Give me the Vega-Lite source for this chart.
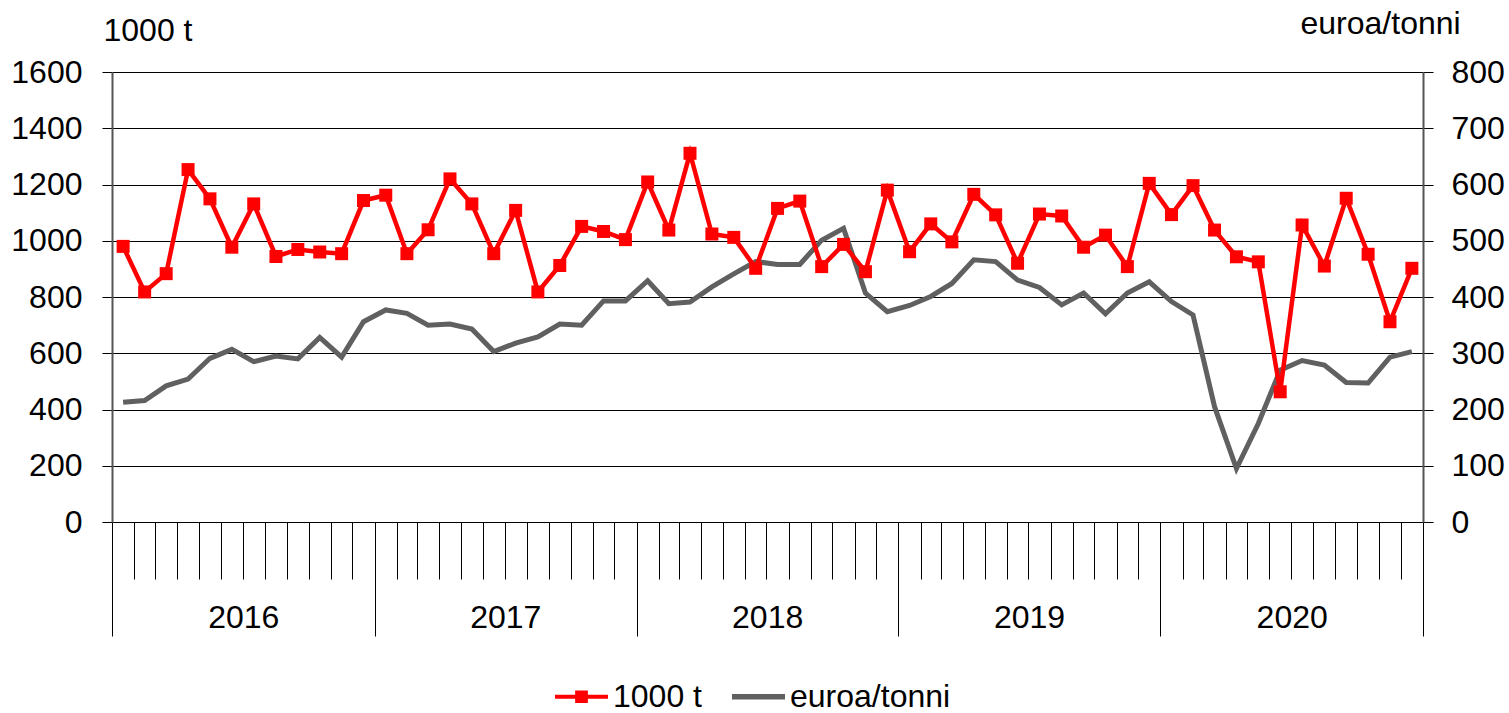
{
  "$schema": "https://vega.github.io/schema/vega-lite/v6.json",
  "width": 1311,
  "height": 450,
  "autosize": {"type": "none"},
  "padding": {"left": 112, "top": 72, "right": 86, "bottom": 191},
  "background": "white",
  "config": {
    "font": "Liberation Sans",
    "view": {"stroke": null},
    "axis": {"labelFont": "Liberation Sans", "titleFont": "Liberation Sans", "labelColor": "#000", "titleColor": "#000", "labelFontSize": 32, "titleFontSize": 32, "titleFontWeight": "normal", "tickColor": "#000", "tickWidth": 1, "domainColor": "#555", "domainWidth": 2},
    "legend": {"labelFont": "Liberation Sans", "labelFontSize": 32, "labelColor": "#000", "labelLimit": 0}
  },
  "data": {"values": [
    {"month": "2016-01", "t": 980, "price": 213},
    {"month": "2016-02", "t": 818, "price": 216},
    {"month": "2016-03", "t": 883, "price": 242},
    {"month": "2016-04", "t": 1253, "price": 254},
    {"month": "2016-05", "t": 1149, "price": 291},
    {"month": "2016-06", "t": 977, "price": 307},
    {"month": "2016-07", "t": 1131, "price": 285},
    {"month": "2016-08", "t": 944, "price": 295},
    {"month": "2016-09", "t": 969, "price": 290},
    {"month": "2016-10", "t": 960, "price": 328},
    {"month": "2016-11", "t": 954, "price": 293},
    {"month": "2016-12", "t": 1143, "price": 356},
    {"month": "2017-01", "t": 1162, "price": 377},
    {"month": "2017-02", "t": 954, "price": 371},
    {"month": "2017-03", "t": 1039, "price": 350},
    {"month": "2017-04", "t": 1220, "price": 352},
    {"month": "2017-05", "t": 1131, "price": 343},
    {"month": "2017-06", "t": 954, "price": 303},
    {"month": "2017-07", "t": 1108, "price": 318},
    {"month": "2017-08", "t": 818, "price": 329},
    {"month": "2017-09", "t": 912, "price": 352},
    {"month": "2017-10", "t": 1051, "price": 350},
    {"month": "2017-11", "t": 1033, "price": 393},
    {"month": "2017-12", "t": 1004, "price": 393},
    {"month": "2018-01", "t": 1209, "price": 429},
    {"month": "2018-02", "t": 1038, "price": 388},
    {"month": "2018-03", "t": 1311, "price": 391},
    {"month": "2018-04", "t": 1024, "price": 418},
    {"month": "2018-05", "t": 1012, "price": 441},
    {"month": "2018-06", "t": 902, "price": 463},
    {"month": "2018-07", "t": 1115, "price": 458},
    {"month": "2018-08", "t": 1141, "price": 458},
    {"month": "2018-09", "t": 908, "price": 501},
    {"month": "2018-10", "t": 987, "price": 522},
    {"month": "2018-11", "t": 890, "price": 407},
    {"month": "2018-12", "t": 1180, "price": 374},
    {"month": "2019-01", "t": 961, "price": 385},
    {"month": "2019-02", "t": 1060, "price": 401},
    {"month": "2019-03", "t": 996, "price": 424},
    {"month": "2019-04", "t": 1165, "price": 466},
    {"month": "2019-05", "t": 1092, "price": 463},
    {"month": "2019-06", "t": 920, "price": 430},
    {"month": "2019-07", "t": 1095, "price": 417},
    {"month": "2019-08", "t": 1088, "price": 386},
    {"month": "2019-09", "t": 977, "price": 407},
    {"month": "2019-10", "t": 1020, "price": 370},
    {"month": "2019-11", "t": 908, "price": 407},
    {"month": "2019-12", "t": 1204, "price": 427},
    {"month": "2020-01", "t": 1093, "price": 392},
    {"month": "2020-02", "t": 1196, "price": 368},
    {"month": "2020-03", "t": 1038, "price": 205},
    {"month": "2020-04", "t": 943, "price": 95},
    {"month": "2020-05", "t": 925, "price": 175},
    {"month": "2020-06", "t": 463, "price": 270},
    {"month": "2020-07", "t": 1056, "price": 287},
    {"month": "2020-08", "t": 910, "price": 279},
    {"month": "2020-09", "t": 1151, "price": 248},
    {"month": "2020-10", "t": 952, "price": 247},
    {"month": "2020-11", "t": 712, "price": 293},
    {"month": "2020-12", "t": 902, "price": 303}
  ]},
  "layer": [
    {
      "mark": {"type": "line", "strokeWidth": 5},
      "encoding": {
        "x": {
          "field": "month", "type": "temporal", "timeUnit": "utcyearmonth", "bandPosition": 0.5,
          "scale": {"type": "utc", "domain": [{"year": 2016, "month": 1, "date": 1, "utc": true}, {"year": 2021, "month": 1, "date": 1, "utc": true}]},
          "axis": {"orient": "bottom", "title": null, "values": [{"year": 2016, "month": 7, "date": 2, "utc": true}, {"year": 2017, "month": 7, "date": 2, "utc": true}, {"year": 2018, "month": 7, "date": 2, "utc": true}, {"year": 2019, "month": 7, "date": 2, "utc": true}, {"year": 2020, "month": 7, "date": 2, "utc": true}], "format": "%Y", "ticks": false, "domain": false, "grid": false, "labelPadding": 80, "labelBaseline": "top", "labelAngle": 0}
        },
        "y": {
          "field": "price", "type": "quantitative",
          "scale": {"domain": [0, 800], "nice": false},
          "axis": {"orient": "right", "values": [0, 100, 200, 300, 400, 500, 600, 700, 800], "format": "d", "grid": false, "tickSize": 10, "labelPadding": 18, "title": "euroa/tonni", "titleAngle": 0, "titleAlign": "left", "titleBaseline": "alphabetic", "titleX": -123, "titleY": -39}
        },
        "color": {
          "datum": "euroa/tonni", "type": "nominal",
          "scale": {"domain": ["1000 t", "euroa/tonni"], "range": ["#ff0000", "#606060"]},
          "legend": {
            "title": null, "orient": "none", "direction": "horizontal", "legendX": 443, "legendY": 598,
            "symbolSize": 2809, "labelOffset": 5, "columnPadding": 30, "labelLimit": 0,
            "encode": {"symbols": {"update": {
              "shape": {"signal": "datum.value === '1000 t' ? 'M-1,-0.08H1V0.08H-1Z M-0.24,-0.24H0.24V0.24H-0.24Z' : 'M-1,-0.1H1V0.1H-1Z'"},
              "fill": {"signal": "datum.value === '1000 t' ? '#ff0000' : '#606060'"},
              "stroke": {"value": "transparent"},
              "strokeWidth": {"value": 0},
              "opacity": {"value": 1}
            }}}
          }
        }
      }
    },
    {
      "layer": [
        {
          "mark": {"type": "line", "strokeWidth": 4.5, "color": "#ff0000"},
          "encoding": {
            "x": {
              "field": "month", "type": "temporal", "timeUnit": "utcyearmonth", "bandPosition": 0.5,
              "scale": {"type": "utc", "domain": [{"year": 2016, "month": 1, "date": 1, "utc": true}, {"year": 2021, "month": 1, "date": 1, "utc": true}]},
              "axis": {"orient": "bottom", "title": null, "tickCount": {"interval": "month", "step": 1}, "labels": false, "tickSize": 57, "domain": false, "grid": false}
            },
            "y": {
              "field": "t", "type": "quantitative",
              "scale": {"domain": [0, 1600], "nice": false},
              "axis": {"orient": "left", "values": [0, 200, 400, 600, 800, 1000, 1200, 1400, 1600], "format": "d", "grid": true, "gridColor": "#000", "gridWidth": 1, "gridOpacity": 1, "tickSize": 10, "labelPadding": 20, "title": "1000 t", "titleAngle": 0, "titleAlign": "left", "titleBaseline": "alphabetic", "titleX": -9, "titleY": -32}
            }
          }
        },
        {
          "mark": {"type": "point", "shape": "square", "filled": true, "size": 169, "color": "#ff0000", "opacity": 1},
          "encoding": {
            "x": {
              "field": "month", "type": "temporal", "timeUnit": "utcyearmonth", "bandPosition": 0.5,
              "scale": {"type": "utc", "domain": [{"year": 2016, "month": 1, "date": 1, "utc": true}, {"year": 2021, "month": 1, "date": 1, "utc": true}]},
              "axis": {"orient": "bottom", "title": null, "tickCount": {"interval": "year", "step": 1}, "labels": false, "tickSize": 114, "domain": false, "grid": false}
            },
            "y": {
              "field": "t", "type": "quantitative",
              "scale": {"domain": [0, 1600], "nice": false},
              "axis": {"orient": "left", "values": [0, 200, 400, 600, 800, 1000, 1200, 1400, 1600], "format": "d", "grid": true, "gridColor": "#000", "gridWidth": 1, "gridOpacity": 1, "tickSize": 10, "labelPadding": 20, "title": "1000 t", "titleAngle": 0, "titleAlign": "left", "titleBaseline": "alphabetic", "titleX": -9, "titleY": -32}
            }
          }
        }
      ],
      "resolve": {"axis": {"x": "independent"}}
    }
  ],
  "resolve": {"scale": {"y": "independent"}, "axis": {"x": "independent"}}
}
